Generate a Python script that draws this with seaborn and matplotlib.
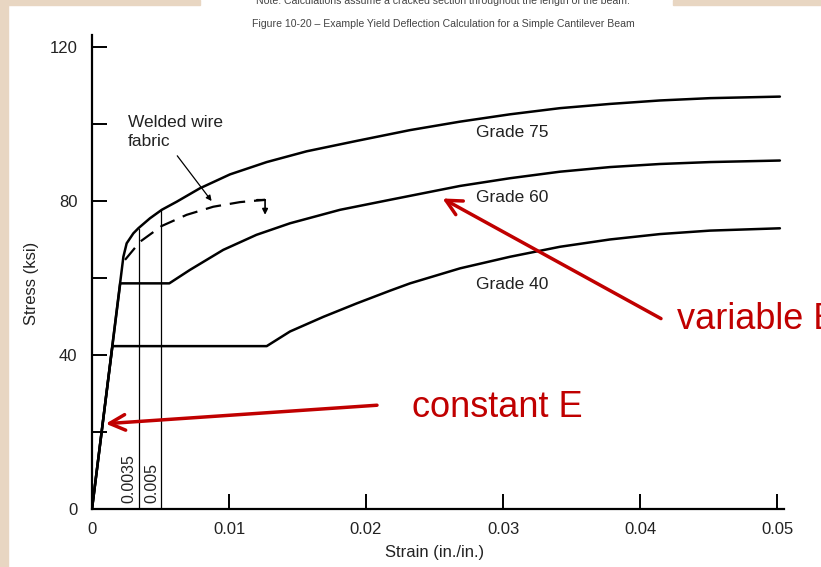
import matplotlib
matplotlib.use("Agg")
import matplotlib.pyplot as plt
from matplotlib.patches import Rectangle
import seaborn as sns
import pandas as pd

# ---- data ----
grade75_strain = [0.0, 0.00229, 0.00253, 0.00302, 0.00338, 0.00423, 0.00509, 0.00618, 0.00788,
                  0.01007, 0.01275, 0.01567, 0.01932, 0.02321, 0.02686, 0.0305, 0.03415,
                  0.0378, 0.04145, 0.0451, 0.0502]
grade75_stress = [0.0, 65.5, 69.0, 71.6, 72.9, 75.5, 77.7, 79.8, 83.3,
                  86.9, 90.1, 92.9, 95.6, 98.4, 100.6, 102.5, 104.1,
                  105.2, 106.1, 106.7, 107.1]

grade60_strain = [0.0, 0.00206, 0.00564, 0.00715, 0.00958, 0.0120, 0.01445, 0.0181, 0.02175,
                  0.02686, 0.0305, 0.03415, 0.0378, 0.04145, 0.0451, 0.0502]
grade60_stress = [0.0, 58.6, 58.6, 62.1, 67.3, 71.2, 74.2, 77.7, 80.3,
                  83.9, 85.9, 87.6, 88.8, 89.6, 90.1, 90.5]

grade40_strain = [0.0, 0.00149, 0.01275, 0.01445, 0.01688, 0.01932, 0.02175, 0.02321, 0.02686,
                  0.0305, 0.03415, 0.0378, 0.04145, 0.0451, 0.0502]
grade40_stress = [0.0, 42.3, 42.3, 46.1, 49.9, 53.4, 56.7, 58.6, 62.5,
                  65.5, 68.1, 70.0, 71.4, 72.3, 72.9]

wwf_strain = [0.00241, 0.0035, 0.00509, 0.00691, 0.00885, 0.0108, 0.01263]
wwf_stress = [64.7, 69.4, 73.5, 76.4, 78.5, 79.7, 80.3]

ref_strains = [0.0034, 0.00505]
ref_tops = [72.6, 77.7]
ref_labels = ["0.0035", "0.005"]

grade_labels = ["Grade 75", "Grade 60", "Grade 40"]
grade_label_y = [97.7, 80.8, 58.4]

x_ticks = [0, 0.01, 0.02, 0.03, 0.04, 0.05]
x_ticklabels = ["0", "0.01", "0.02", "0.03", "0.04", "0.05"]
y_ticks = [0, 20, 40, 60, 80, 100, 120]
y_ticklabels = ["0", "", "40", "", "80", "", "120"]

sns.set_style("ticks")
plt.rcParams["font.family"] = ["Liberation Sans", "DejaVu Sans"]

fig = plt.figure(figsize=(8.21, 5.67), dpi=100)
fig.patch.set_facecolor("white")
beige = "#E8D6C2"
fig.patches.append(Rectangle((0, 0), 8 / 821, 1, transform=fig.transFigure, color=beige, zorder=0))
fig.patches.append(Rectangle((0, 1 - 5 / 567), 200 / 821, 5 / 567, transform=fig.transFigure, color=beige, zorder=0))
fig.patches.append(Rectangle((673 / 821, 1 - 5 / 567), 148 / 821, 5 / 567, transform=fig.transFigure, color=beige, zorder=0))

ax = fig.add_axes([92 / 821, 58 / 567, 692 / 821, 474 / 567])
ax.set_facecolor("white")

frames = []
for name, xs, ys in [("75", grade75_strain, grade75_stress),
                     ("60", grade60_strain, grade60_stress),
                     ("40", grade40_strain, grade40_stress)]:
    frames.append(pd.DataFrame({"strain": xs, "stress": ys, "grade": name}))
df = pd.concat(frames, ignore_index=True)

sns.lineplot(data=df, x="strain", y="stress", units="grade", estimator=None,
             sort=False, color="black", linewidth=1.8, ax=ax, legend=False)

wwf = pd.DataFrame({"strain": wwf_strain, "stress": wwf_stress})
sns.lineplot(data=wwf, x="strain", y="stress", sort=False, color="black",
             linewidth=1.6, ax=ax, legend=False, linestyle=(0, (7, 4)))
# hook arrow at end of dashed curve
ax.plot([wwf_strain[-1] - 0.0006, wwf_strain[-1]], [wwf_stress[-1], wwf_stress[-1]], color="black", lw=1.6)
ax.annotate("", xy=(wwf_strain[-1], wwf_stress[-1] - 3.9),
            xytext=(wwf_strain[-1], wwf_stress[-1]),
            arrowprops=dict(arrowstyle="-|>", color="black", lw=1.2, mutation_scale=8,
                            shrinkA=0, shrinkB=0))

for xs, top, lab in zip(ref_strains, ref_tops, ref_labels):
    ax.plot([xs, xs], [0, top], color="black", lw=0.9)
    ax.text(xs - 0.0007, 1.5, lab, rotation=90, ha="center", va="bottom", fontsize=11.5, color="#222222")

for lab, y in zip(grade_labels, grade_label_y):
    ax.text(0.0280, y, lab, ha="left", va="center", fontsize=12.5, color="#222222")

ax.text(0.00263, 102.3, "Welded wire\nfabric", ha="left", va="top", fontsize=12.5,
        color="#222222", linespacing=1.3)
ax.annotate("", xy=(0.00885, 79.4), xytext=(0.0061, 92.3),
            arrowprops=dict(arrowstyle="-|>", color="black", lw=0.9, mutation_scale=8))

red = "#C00000"
ax.annotate("", xy=(0.0008, 22.1), xytext=(0.0210, 27.0),
            arrowprops=dict(arrowstyle="->", color=red, lw=2.5, mutation_scale=28))
ax.annotate("", xy=(0.0254, 81.0), xytext=(0.0417, 49.1),
            arrowprops=dict(arrowstyle="->", color=red, lw=2.5, mutation_scale=28))
ax.text(0.02335, 26.4, "constant E", color=red, fontsize=26, ha="left", va="center")
ax.text(0.0427, 49.1, "variable E", color=red, fontsize=26, ha="left", va="center", clip_on=False)

ax.set_xlim(0, 0.0505)
ax.set_ylim(0, 123.1)
ax.set_xticks(x_ticks)
ax.set_xticklabels(x_ticklabels)
ax.set_yticks(y_ticks)
ax.set_yticklabels(y_ticklabels)
ax.tick_params(axis="both", direction="in", length=11, width=1.4, labelsize=12,
               colors="black", labelcolor="#222222")
ax.tick_params(axis="x", pad=9)
ax.tick_params(axis="y", pad=10.5)
for s in ["top", "right"]:
    ax.spines[s].set_visible(False)
for s in ["left", "bottom"]:
    ax.spines[s].set_linewidth(1.6)
    ax.spines[s].set_color("black")

ax.set_xlabel("Strain (in./in.)", fontsize=12, color="#222222")
ax.set_ylabel("Stress (ksi)", fontsize=12, color="#222222")
ax.xaxis.set_label_coords((435 - 92) / 692, (509 - 553) / 474)
ax.yaxis.set_label_coords((31 - 92) / 692, (509 - 283) / 474)
ax.xaxis.label.set_va("center")
ax.yaxis.label.set_va("center")

fig.text(443 / 821, 1 - 24 / 567,
         "Figure 10-20 \u2013 Example Yield Deflection Calculation for a Simple Cantilever Beam",
         ha="center", va="center", fontsize=7.6, color="#444444")
fig.text(443 / 821, 1 - 1 / 567,
         "Note: Calculations assume a cracked section throughout the length of the beam.",
         ha="center", va="center", fontsize=7.6, color="#444444")

fig.savefig("out.png", dpi=100, facecolor=fig.get_facecolor())
